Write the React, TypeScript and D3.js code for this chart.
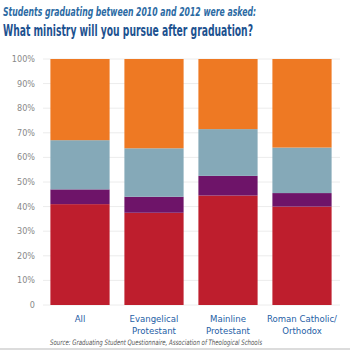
import React, { useEffect, useRef } from 'react'
import * as d3 from 'd3'

const categories = ['All', 'Evangelical Protestant', 'Mainline Protestant', 'Roman Catholic/ Orthodox']
const categoryLines = [['All'], ['Evangelical', 'Protestant'], ['Mainline', 'Protestant'], ['Roman Catholic/', 'Orthodox']]
const seriesKeys = ['s1', 's2', 's3', 's4']
const s1 = [41, 37.5, 44.5, 40]
const s2 = [6, 6.5, 8, 5.5]
const s3 = [20, 19.7, 19, 18.5]
const s4 = [33, 36.3, 28.5, 36]
const yTicks = [0, 10, 20, 30, 40, 50, 60, 70, 80, 90, 100]
const colors = ['#be1e2d', '#6e1469', '#85a9b8', '#ee7923']

const FONT = "'DejaVu Sans Condensed', 'Liberation Sans Narrow', sans-serif"

export default function App() {
    const svgRef = useRef<SVGSVGElement>(null)
    const width = 350
    const height = 350

    useEffect(() => {
        if (!svgRef.current) return
        const svg = d3.select(svgRef.current)
        svg.selectAll("*").remove()

        const margin = { top: 59, right: 11, bottom: 45, left: 43 }
        const innerWidth = width - margin.left - margin.right
        const innerHeight = height - margin.top - margin.bottom

        const rows = categories.map((c, i) => ({ cat: c, s1: s1[i], s2: s2[i], s3: s3[i], s4: s4[i] }))
        const stacked = d3.stack<any>().keys(seriesKeys)(rows)

        const x = d3.scaleBand().domain(categories).range([0, innerWidth]).paddingInner(0.2).paddingOuter(0.1)
        const y = d3.scaleLinear().domain([0, 100]).range([innerHeight, 0])

        // titles
        svg.append("text").attr("x", 3).attr("y", 16)
            .attr("font-family", FONT).attr("font-style", "italic").attr("font-weight", "bold")
            .attr("font-size", 12.5).attr("fill", "#2b6aa3")
            .attr("textLength", 253).attr("lengthAdjust", "spacingAndGlyphs")
            .text("Students graduating between 2010 and 2012 were asked:")
        svg.append("text").attr("x", 3).attr("y", 36)
            .attr("font-family", FONT).attr("font-weight", "bold")
            .attr("font-size", 16).attr("fill", "#1d5290")
            .attr("textLength", 250).attr("lengthAdjust", "spacingAndGlyphs")
            .text("What ministry will you pursue after graduation?")

        const g = svg.append("g").attr("transform", `translate(${margin.left},${margin.top})`)

        // grid
        g.selectAll(".grid").data(yTicks).enter().append("line")
            .attr("x1", 0).attr("x2", innerWidth + 1)
            .attr("y1", d => y(d)).attr("y2", d => y(d))
            .attr("stroke", "#ececec").attr("stroke-width", 1)

        g.selectAll(".ytick").data(yTicks).enter().append("text")
            .attr("x", -8).attr("y", d => y(d) + 3)
            .attr("text-anchor", "end")
            .attr("font-family", FONT).attr("font-size", 9).attr("fill", "#888")
            .text(d => d === 0 ? "0" : `${d}%`)

        // bars
        stacked.forEach((layer, li) => {
            g.selectAll(`.bar${li}`).data(layer).enter().append("rect")
                .attr("x", (d: any) => x(d.data.cat) as number)
                .attr("width", x.bandwidth())
                .attr("y", d => y(d[1]))
                .attr("height", d => y(d[0]) - y(d[1]))
                .attr("fill", colors[li])
        })

        // x labels
        categories.forEach((c, i) => {
            const t = g.append("text")
                .attr("x", (x(c) as number) + x.bandwidth() / 2)
                .attr("y", innerHeight + 17)
                .attr("text-anchor", "middle")
                .attr("font-family", FONT).attr("font-size", 9.5).attr("fill", "#2560a6")
            categoryLines[i].forEach((line, j) => {
                t.append("tspan").attr("x", (x(c) as number) + x.bandwidth() / 2)
                    .attr("dy", j === 0 ? 0 : 11.5).text(line)
            })
        })

        svg.append("text").attr("x", 50).attr("y", 345)
            .attr("font-family", FONT).attr("font-style", "italic")
            .attr("font-size", 7.5).attr("fill", "#555")
            .attr("textLength", 212).attr("lengthAdjust", "spacingAndGlyphs")
            .text("Source: Graduating Student Questionnaire, Association of Theological Schools")

        svg.append("rect").attr("x", 0).attr("y", 348).attr("width", width).attr("height", 2).attr("fill", "#dcdcdc")
    }, [])

    return (
        <svg ref={svgRef} width={width} height={height} viewBox={`0 0 ${width} ${height}`}
            style={{ position: 'absolute', left: 0, top: 0, background: '#fff' }} />
    )
}
